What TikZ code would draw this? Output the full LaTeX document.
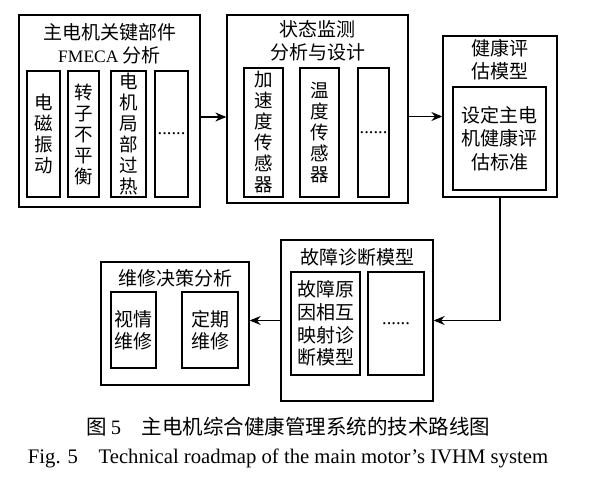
\documentclass[tikz,border=0pt]{standalone}
\usepackage{fontspec}
\setmainfont{Liberation Serif}
\newfontfamily\cjk{Noto Sans CJK SC}
\usetikzlibrary{arrows.meta}

\tikzset{
  box/.style={draw, line width=1.3pt, inner sep=0pt},
  cell/.style={draw, line width=1.3pt, inner sep=0pt, align=center,
    font=\cjk\fontsize{18.5}{21}\selectfont},
  ttl/.style={align=center, inner sep=0pt, font=\cjk\fontsize{19}{23}\selectfont},
  link/.style={line width=1.3pt, -{Stealth[length=11pt,width=9pt]}}
}

\begin{document}
\begin{tikzpicture}[x=1pt, y=-1pt]
  \useasboundingbox (0,0) rectangle (591,478);

  % FMECA
  \node[box, minimum width=181pt, minimum height=192pt] (fmeca) at (109.5,111) {};
  \node[ttl] (fmecat) at (109.5,43.5) {主电机关键部件\\{\rmfamily\fontsize{17.5}{23}\selectfont FMECA} 分析};
  \node[cell, minimum width=33pt, minimum height=126pt] (vib) at (43.5,134) {电\\磁\\振\\动};
  \node[cell, minimum width=31pt, minimum height=126pt] (rotor) at (83.5,134) {转\\子\\不\\平\\衡};
  \node[cell, minimum width=35pt, minimum height=126pt] (heat) at (128.5,134) {电\\机\\局\\部\\过\\热};
  \node[cell, minimum width=33pt, minimum height=126pt] (fmore) at (171.5,134) {\rmfamily ......};

  % monitoring
  \node[box, minimum width=181pt, minimum height=188pt] (mon) at (317.5,109) {};
  \node[ttl] (mont) at (317.5,41) {状态监测\\分析与设计};
  \node[cell, minimum width=39pt, minimum height=129pt] (acc) at (263.5,132.5) {加\\速\\度\\传\\感\\器};
  \node[cell, minimum width=39pt, minimum height=129pt] (temp) at (319.5,132.5) {温\\度\\传\\感\\器};
  \node[cell, minimum width=31pt, minimum height=129pt] (mmore) at (373.5,132.5) {\rmfamily ......};

  % health
  \node[box, minimum width=114pt, minimum height=161pt] (hlth) at (500,116.5) {};
  \node[ttl] (hltht) at (500,60) {健康评\\估模型};
  \node[cell, minimum width=93pt, minimum height=103pt, font=\cjk\fontsize{19}{23.5}\selectfont] (std) at (499.5,138.5) {设定主电\\机健康评\\估标准};

  % diagnosis
  \node[box, minimum width=152pt, minimum height=161pt] (diag) at (357,320.5) {};
  \node[ttl] (diagt) at (357,257) {故障诊断模型};
  \node[cell, minimum width=69pt, minimum height=103pt, font=\cjk\fontsize{19}{22.7}\selectfont] (map) at (325.5,323.5) {故障原\\因相互\\映射诊\\断模型};
  \node[cell, minimum width=56pt, minimum height=103pt] (dmore) at (396,323.5) {\rmfamily ......};

  % maintenance
  \node[box, minimum width=148pt, minimum height=123pt] (mnt) at (175,323.5) {};
  \node[ttl] (mntt) at (175,278) {维修决策分析};
  \node[cell, minimum width=45pt, minimum height=76pt, font=\cjk\fontsize{19}{22}\selectfont] (cond) at (133.5,330) {视情\\维修};
  \node[cell, minimum width=56pt, minimum height=76pt, font=\cjk\fontsize{19}{22}\selectfont] (per) at (210,330) {定期\\维修};

  \draw[link] ([yshift=-6pt]fmeca.east) -- ([yshift=-6pt]fmeca.east -| mon.west);
  \draw[link] (mon.east |- hlth.west) -- (hlth.west);
  \draw[link] (hlth.south) |- (diag.east);
  \draw[link] (diag.west) -- (diag.west -| mnt.east);

  % caption
  \node[font=\cjk\fontsize{20.5}{24}\selectfont] (capcn) at (288.5,427) {图\,{\rmfamily 5}\hspace{1em}主电机综合健康管理系统的技术路线图};
  \node[font=\rmfamily\fontsize{20.7}{24}\selectfont] (capen) at (288,458) {Fig. 5\hspace{1em}Technical roadmap of the main motor's IVHM system};
\end{tikzpicture}
\end{document}
